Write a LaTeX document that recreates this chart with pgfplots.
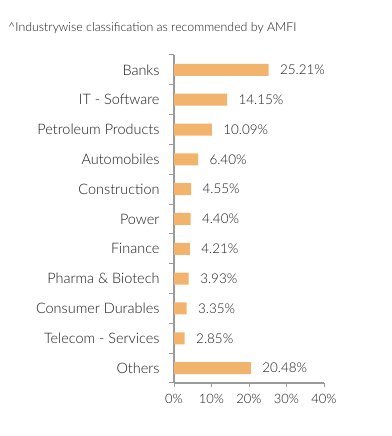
\documentclass[border=0pt]{standalone}
\usepackage{pgfplots}
\pgfplotsset{compat=1.18}
\usepackage{fontspec}
\setmainfont{Lato}[UprightFont=* Light]
\definecolor{barc}{HTML}{F2B36C}
\definecolor{axc}{HTML}{9A9A9A}
\definecolor{txt}{HTML}{1A1A1A}
\pgfplotstableread{
y val
0 20.48
1 2.85
2 3.35
3 3.93
4 4.21
5 4.40
6 4.55
7 6.40
8 10.09
9 14.15
10 25.21
}\datatab
\begin{document}
\begin{tikzpicture}[x=1bp,y=1bp]
\useasboundingbox (0,0) rectangle (391,436);
\node[anchor=west, inner sep=0pt, font=\fontsize{12.4}{14}\selectfont, text=txt] at (8,408) {\textasciicircum Industrywise classification as recommended by AMFI};
\begin{axis}[at={(174bp,53bp)}, anchor=south west, scale only axis,
  width=150bp, height=328bp,
  xmin=0, xmax=40, ymin=-0.5, ymax=10.5,
  xbar, bar width=12bp,
  axis x line=bottom, axis y line=left,
  axis line style={draw=axc, line width=1.2bp, -},
  tick align=outside,
  xtick={0,10,20,30,40},
  xticklabels={0\%,10\%,20\%,30\%,40\%},
  major tick length=4bp, minor tick length=5bp,
  x tick style={draw=axc, line width=1bp},
  major y tick style={draw=none},
  minor y tick style={draw=axc, line width=1bp},
  ytick={0,...,10},
  minor ytick={-0.5,0.5,...,10.5},
  yticklabels={Others,Telecom - Services,Consumer Durables,Pharma \& Biotech,Finance,Power,Construction,Automobiles,Petroleum Products,IT - Software,Banks},
  yticklabel style={font=\fontsize{14.5}{16}\selectfont, text=txt, xshift=-7bp},
  xticklabel style={font=\fontsize{13}{15}\selectfont, text=txt, yshift=-4bp},
  /pgf/number format/assume math mode=true,
  nodes near coords={\pgfmathprintnumber[fixed,fixed zerofill,precision=2]{\pgfplotspointmeta}\%},
  nodes near coords style={font=\fontsize{13.5}{15}\selectfont, text=txt, xshift=8bp},
  clip=false,
]
\addplot[fill=barc, draw=none] table[x=val, y=y] {\datatab};
\end{axis}
\end{tikzpicture}
\end{document}
